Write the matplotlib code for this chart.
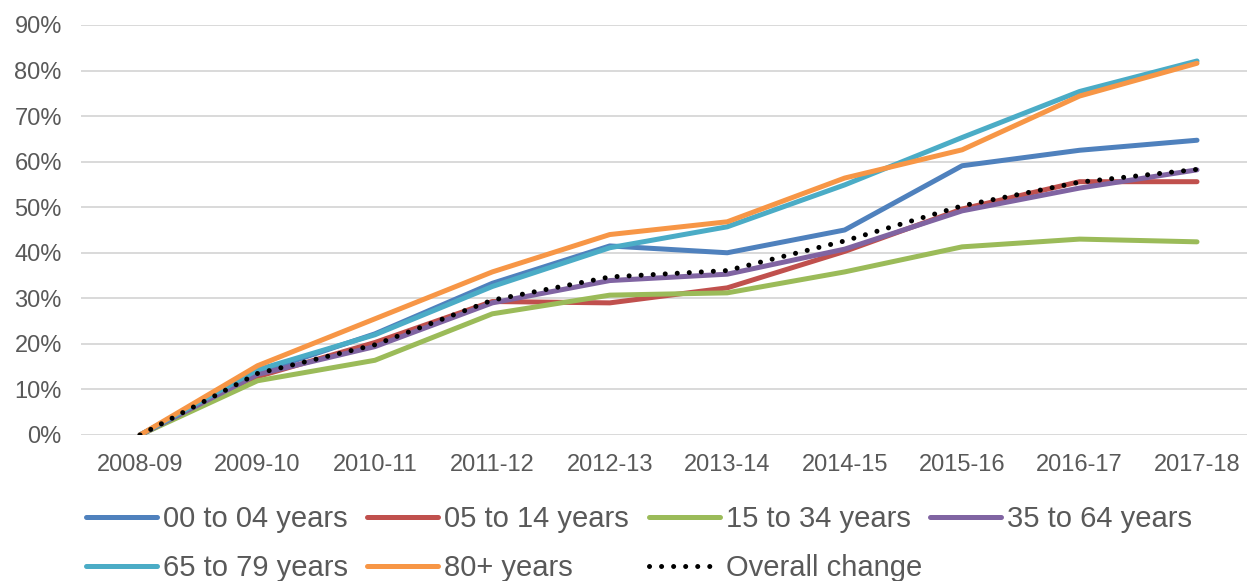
import numpy as np
import matplotlib.pyplot as plt
from matplotlib.ticker import PercentFormatter

plt.rcParams['font.family'] = ['Liberation Sans', 'DejaVu Sans']

years = ['2008-09', '2009-10', '2010-11', '2011-12', '2012-13',
         '2013-14', '2014-15', '2015-16', '2016-17', '2017-18']

# cumulative change since 2008-09, in %
age_00_04 = [0, 13.6, 22.2, 33.3, 41.5, 40.0, 45.0, 59.1, 62.5, 64.7]
age_05_14 = [0, 12.8, 20.3, 29.3, 29.0, 32.3, 40.3, 49.6, 55.6, 55.6]
age_15_34 = [0, 11.9, 16.4, 26.6, 30.7, 31.2, 35.8, 41.3, 43.0, 42.4]
age_35_64 = [0, 13.3, 19.4, 29.0, 33.9, 35.3, 40.8, 49.2, 54.2, 58.2]
age_65_79 = [0, 14.3, 22.0, 32.6, 41.1, 45.7, 54.9, 65.3, 75.4, 82.1]
age_80_up = [0, 15.2, 25.5, 35.8, 44.0, 46.8, 56.4, 62.6, 74.4, 81.6]
overall = [0, 13.5, 19.8, 29.6, 34.7, 36.1, 42.6, 50.3, 55.5, 58.3]

series = [
    ('00 to 04 years', age_00_04, '#4F81BD'),
    ('05 to 14 years', age_05_14, '#C0504D'),
    ('15 to 34 years', age_15_34, '#9BBB59'),
    ('35 to 64 years', age_35_64, '#8064A2'),
    ('65 to 79 years', age_65_79, '#4BACC6'),
    ('80+ years', age_80_up, '#F79646'),
]

fig = plt.figure(figsize=(12.47, 5.81), dpi=100)
ax = fig.add_axes([0.0652, 0.2513, 0.9418, 0.7057])

x = np.arange(len(years))
handles = []
for name, vals, col in series:
    h, = ax.plot(x, vals, color=col, lw=3.6, solid_capstyle='round',
                 solid_joinstyle='round', label=name)
    handles.append(h)
h, = ax.plot(x, overall, color='black', lw=3.6, linestyle=(0, (0.01, 2.4)),
             dash_capstyle='round', label='Overall change')
handles.append(h)

ax.set_xlim(-0.5, len(years) - 0.5)
ax.set_ylim(0, 90)
ax.set_yticks(np.arange(0, 91, 10))
ax.yaxis.set_major_formatter(PercentFormatter(decimals=0))
ax.set_xticks(x)
ax.set_xticklabels(years)
ax.grid(axis='y', color='#D9D9D9', lw=1.4)
ax.set_axisbelow(True)
for s in ax.spines.values():
    s.set_visible(False)
ax.tick_params(length=0, labelsize=17, colors='#595959')
ax.tick_params(axis='y', pad=14)
ax.tick_params(axis='x', pad=14)

# legend laid out in evenly spaced columns, two rows
col_x = [86, 367, 649, 930]
columns = [[0, 4], [1, 5], [2, 6], [3]]
for cx, idx in zip(col_x, columns):
    leg = fig.legend([handles[i] for i in idx], [handles[i].get_label() for i in idx],
                     loc='upper left', bbox_to_anchor=(cx / 1247, 1 - 505 / 581),
                     frameon=False, fontsize=21, labelcolor='#595959',
                     handlelength=2.45, handletextpad=0.2,
                     labelspacing=0.72, borderpad=0, borderaxespad=0)

fig.savefig('out.png', dpi=100)
